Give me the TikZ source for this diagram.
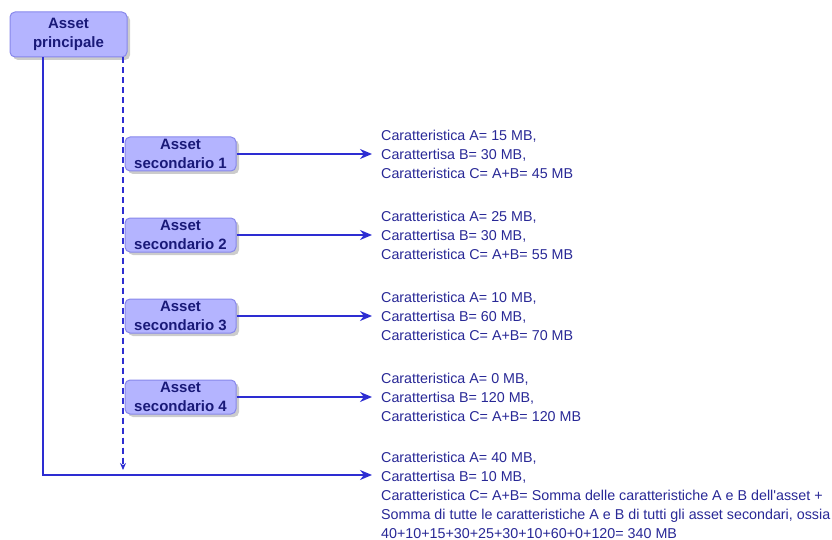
\documentclass[tikz,border=0pt]{standalone}
\usepackage{fontspec}
\setmainfont{Liberation Sans}
\usetikzlibrary{arrows.meta,shadows}
\definecolor{boxfill}{RGB}{180,180,255}
\definecolor{boxline}{RGB}{135,135,235}
\definecolor{boxtext}{RGB}{25,25,120}
\definecolor{linkblue}{RGB}{45,45,210}
\definecolor{cartext}{RGB}{40,40,150}
\tikzset{
  asset/.style={draw=boxline,fill=boxfill,rounded corners=5pt,line width=1pt,
    text=boxtext,font=\fontsize{15}{18.5}\selectfont\bfseries,align=center,inner sep=0pt,
    drop shadow={shadow xshift=3pt,shadow yshift=-3pt,fill=black,opacity=0.2}},
  car/.style={text=cartext,font=\fontsize{14.3}{19}\selectfont,align=left,inner sep=0pt,anchor=west},
  link/.style={draw=linkblue,line width=1.5pt,-{Stealth[length=12pt,width=10pt]}},
}
\begin{document}
\begin{tikzpicture}[x=1pt,y=-1pt]
  \useasboundingbox (0,0) rectangle (832,540);
  \coordinate (angolo) at (43,475);
  \coordinate (fine) at (372,475);
  \coordinate (finetr) at (123,470);
  \node[asset,minimum width=117pt,minimum height=45pt] (principale) at (68.5,34.5) {Asset\\principale};
  \draw[link] (principale.south -| angolo) -- (angolo) -- (fine);
  \draw[linkblue,line width=1.5pt,dash pattern=on 6pt off 4pt,-{Stealth[length=7pt,width=6pt]}]
    (principale.south -| finetr) -- (finetr);
  \foreach \i/\a/\b/\c in {1/15/30/45,2/25/30/55,3/10/60/70,4/0/120/120}{
    \node[asset,minimum width=111pt,minimum height=34pt] (sec\i) at (180.5,73+81*\i) {Asset\\secondario \i};
    \node[car] (car\i) at (381,73+81*\i) {Caratteristica A= \a\ MB,\\Carattertisa B= \b\ MB,\\Caratteristica C= A+B= \c\ MB};
    \draw[link,shorten >=9pt] (sec\i) -- (car\i.west);
  }
  \node[car,anchor=north west] (car5) at (381,452) {Caratteristica A= 40 MB,\\Carattertisa B= 10 MB,\\Caratteristica C= A+B= Somma delle caratteristiche A e B dell\textquotesingle asset +\\Somma di tutte le caratteristiche A e B di tutti gli asset secondari, ossia\\40+10+15+30+25+30+10+60+0+120= 340 MB};
\end{tikzpicture}
\end{document}
